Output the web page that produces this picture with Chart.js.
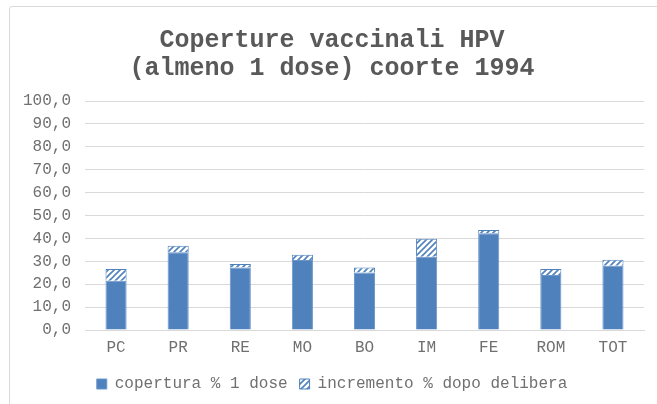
<!DOCTYPE html>
<html>
<head>
<meta charset="utf-8">
<script src="https://cdn.jsdelivr.net/npm/chart.js@4"></script>
<style>
    html, body { margin: 0; padding: 0; background: #ffffff; }
    #wrap {
        position: absolute; left: 9px; top: 6px; width: 660px; height: 410px;
        border: 1px solid #d9d9d9; border-radius: 3px; box-sizing: border-box;
    }
    #frame { position: absolute; left: 0; top: 0; width: 657px; height: 404px; }
</style>
</head>
<body>
<div id="wrap"></div>
<div id="frame"><canvas id="hpv" width="657" height="404"></canvas></div>
<script>
const regions = ['PC', 'PR', 'RE', 'MO', 'BO', 'IM', 'FE', 'ROM', 'TOT'];
const copertura = [21.5, 33.9, 27.3, 30.6, 25.1, 32.0, 42.2, 24.0, 28.1];
const incremento = [5.1, 2.9, 1.5, 2.3, 2.2, 7.8, 1.5, 2.6, 2.6];
const series_names = ['copertura % 1 dose', 'incremento % dopo delibera'];
const title_lines = ['Coperture vaccinali HPV', '(almeno 1 dose) coorte 1994'];

const blue = '#4f81bd';
const text_grey = '#707070';
const mono = "'Liberation Mono', 'Courier New', monospace";

/**
 * Builds the diagonal hatch fill used for the increment series.
 */
function make_hatch() {
    const tile = document.createElement('canvas');
    tile.width = 6;
    tile.height = 6;
    const ctx = tile.getContext('2d');
    ctx.fillStyle = '#ffffff';
    ctx.fillRect(0, 0, 6, 6);
    ctx.strokeStyle = blue;
    ctx.lineWidth = 1.6;
    ctx.beginPath();
    ctx.moveTo(0, 6); ctx.lineTo(6, 0);
    ctx.moveTo(-3, 3); ctx.lineTo(3, -3);
    ctx.moveTo(3, 9); ctx.lineTo(9, 3);
    ctx.stroke();
    return ctx.createPattern(tile, 'repeat');
}

const canvas = document.getElementById('hpv');
const hatch = make_hatch();

new Chart(canvas, {
    type: 'bar',
    data: {
        labels: regions,
        datasets: [{
            label: series_names[0],
            data: copertura,
            backgroundColor: blue,
            borderColor: '#6a95c9',
            borderWidth: 1,
            barPercentage: 0.68,
            categoryPercentage: 0.5,
        }, {
            label: series_names[1],
            data: incremento,
            backgroundColor: hatch,
            borderColor: blue,
            borderWidth: 1,
            barPercentage: 0.68,
            categoryPercentage: 0.5,
        }]
    },
    options: {
        responsive: false,
        animation: false,
        layout: { padding: { left: 20, right: 13, top: 0, bottom: 2 } },
        scales: {
            x: {
                stacked: true,
                grid: { display: false, drawTicks: false },
                border: { color: '#d9d9d9' },
                ticks: { color: text_grey, font: { family: mono, size: 16 }, padding: 8 },
                afterFit: (axis) => { axis.height = 34; },
            },
            y: {
                stacked: true,
                min: 0,
                max: 100,
                grid: { color: '#d9d9d9', drawTicks: false },
                border: { display: false },
                ticks: {
                    stepSize: 10,
                    autoSkip: false,
                    color: text_grey,
                    padding: 14,
                    font: { family: mono, size: 16 },
                    callback: (v) => v.toFixed(1).replace('.', ','),
                },
                afterFit: (axis) => { axis.width = 65; },
            },
        },
        plugins: {
            title: {
                display: true,
                text: title_lines,
                color: '#595959',
                font: { family: mono, size: 25, weight: 'bold', lineHeight: 1.12 },
                padding: { top: 27, bottom: 18 },
            },
            legend: {
                position: 'bottom',
                labels: {
                    color: text_grey,
                    font: { family: mono, size: 16 },
                    boxWidth: 10,
                    boxHeight: 10,
                    padding: 12,
                },
            },
            tooltip: { enabled: false },
        },
    },
});
</script>
</body>
</html>
